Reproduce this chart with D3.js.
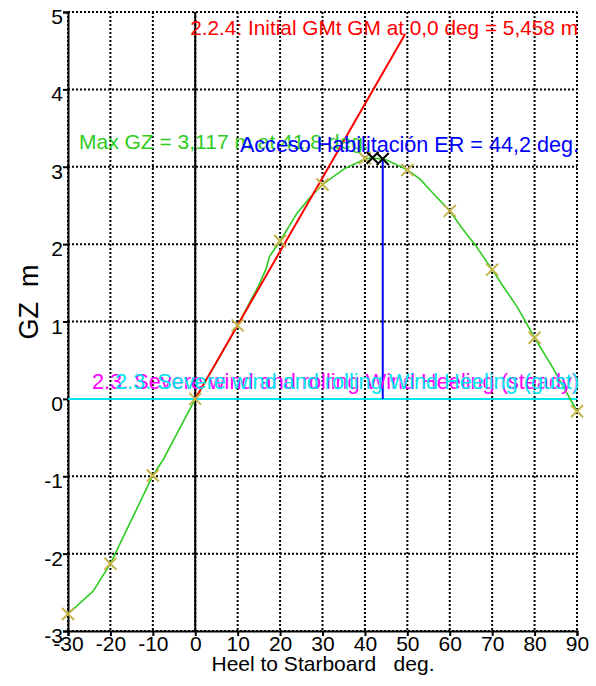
<!DOCTYPE html>
<html>
<head>
<meta charset="utf-8">
<script src="https://cdn.jsdelivr.net/npm/d3@7"></script>
<style>
  body { margin: 0; background: #fff; }
  svg text { font-family: Arial, "Liberation Sans", sans-serif; }
</style>
</head>
<body>
<svg id="graph"></svg>
<script>
var width = 596, height = 686;
var margin = {top: 12, right: 19, bottom: 55, left: 68};

// GZ curve (heel deg -> GZ m)
var heelDeg = [-30, -25, -24, -20, -15, -10, -7.5, -5, 0, 5, 10, 15, 16.7, 17.5, 20, 24, 27, 30, 35, 40, 41.8, 45, 50, 53, 56, 60, 63, 66, 70, 73, 76, 80, 84, 90];
var gzValues = [-2.78, -2.53, -2.48, -2.13, -1.56, -0.99, -0.78, -0.52, 0, 0.47, 0.95, 1.47, 1.68, 1.84, 2.04, 2.4, 2.6, 2.77, 2.97, 3.1, 3.117, 3.09, 2.96, 2.84, 2.66, 2.43, 2.2, 1.99, 1.67, 1.42, 1.18, 0.79, 0.43, -0.16];

// computed points (olive crosses)
var markDeg = [-30, -20, -10, 0, 10, 20, 30, 40, 50, 60, 70, 80, 90];
var markGz = [-2.78, -2.13, -0.99, 0, 0.95, 2.04, 2.77, 3.11, 2.96, 2.43, 1.67, 0.79, -0.16];

// max GZ and ER points (black crosses)
var keyDeg = [41.8, 44.2];
var keyGz = [3.117, 3.1];

var gmValue = 5.458;   // initial GM, m
var gmLineEnd = 49.5;  // deg, where the GM line stops
var erDeg = 44.2;

var xTicks = [-30, -20, -10, 0, 10, 20, 30, 40, 50, 60, 70, 80, 90];
var yTicks = [-3, -2, -1, 0, 1, 2, 3, 4, 5];

var svg = d3.select("#graph")
    .attr("width", width)
    .attr("height", height);

var x = d3.scaleLinear().domain([-30, 90]).range([margin.left, width - margin.right]);
var y = d3.scaleLinear().domain([-3, 5]).range([height - margin.bottom, margin.top]);

// dotted grid
svg.append("g").selectAll("line")
    .data(xTicks)
    .enter().append("line")
      .attr("x1", function(d){ return x(d); })
      .attr("x2", function(d){ return x(d); })
      .attr("y1", y(5))
      .attr("y2", y(-3))
      .attr("stroke", "#000")
      .attr("stroke-width", 2)
      .attr("stroke-dasharray", "2,2");

svg.append("g").selectAll("line")
    .data(yTicks)
    .enter().append("line")
      .attr("x1", x(-30))
      .attr("x2", x(90))
      .attr("y1", function(d){ return y(d); })
      .attr("y2", function(d){ return y(d); })
      .attr("stroke", "#000")
      .attr("stroke-width", 2)
      .attr("stroke-dasharray", "2,2");

// solid zero heel line
svg.append("line")
    .attr("x1", x(0)).attr("x2", x(0))
    .attr("y1", y(5)).attr("y2", y(-3))
    .attr("stroke", "#000")
    .attr("stroke-width", 2);

// axes (plain hyphen for negatives, like the original)
var xAxis = svg.append("g")
    .attr("transform", "translate(0," + y(-3) + ")")
    .call(d3.axisBottom(x).tickValues(xTicks).tickSize(5).tickPadding(0).tickFormat(function(d){ return String(d); }));
var yAxis = svg.append("g")
    .attr("transform", "translate(" + x(-30) + ",0)")
    .call(d3.axisLeft(y).tickValues(yTicks).tickSize(5).tickPadding(0).tickFormat(function(d){ return String(d); }));

[xAxis, yAxis].forEach(function(a){
  a.select(".domain").attr("stroke", "#000").attr("stroke-width", 2);
  a.selectAll(".tick line").attr("stroke", "#000").attr("stroke-width", 2);
  a.selectAll(".tick text")
    .attr("fill", "#000")
    .style("font-size", "21px")
    .style("font-family", "Arial, 'Liberation Sans', sans-serif");
});
yAxis.selectAll(".tick text").attr("dy", "0.55em");
xAxis.selectAll(".tick text").attr("dy", "0.72em");

// axis titles
svg.append("text")
    .attr("x", 323)
    .attr("y", 671)
    .attr("text-anchor", "middle")
    .style("font-size", "21px")
    .text("Heel to Starboard\u00a0\u00a0\u00a0deg.");

svg.append("text")
    .attr("transform", "translate(38,302) rotate(-90)")
    .attr("text-anchor", "middle")
    .style("font-size", "27px")
    .text("GZ\u00a0\u00a0m");

// wind heeling line at GZ = 0
svg.append("line")
    .attr("x1", x(-30)).attr("x2", x(90))
    .attr("y1", y(0)).attr("y2", y(0))
    .attr("stroke", "#00e5ee")
    .attr("stroke-width", 2);

// GZ curve
var gzLine = d3.line()
    .x(function(d, i){ return x(heelDeg[i]); })
    .y(function(d){ return y(d); });

svg.append("path")
    .datum(gzValues)
    .attr("d", gzLine)
    .attr("fill", "none")
    .attr("stroke", "#2ecc22")
    .attr("stroke-width", 1.6);

// initial GM line
svg.append("line")
    .attr("x1", x(0)).attr("y1", y(0))
    .attr("x2", x(gmLineEnd))
    .attr("y2", y(gmValue * gmLineEnd * Math.PI / 180))
    .attr("stroke", "#ff0000")
    .attr("stroke-width", 2);

// ER vertical line
svg.append("line")
    .attr("x1", x(erDeg)).attr("x2", x(erDeg))
    .attr("y1", y(0)).attr("y2", y(keyGz[1]))
    .attr("stroke", "#0000ff")
    .attr("stroke-width", 2);

function cross(g, px, py, r, color) {
  g.append("path")
    .attr("d", "M" + (px - r) + "," + (py - r) + "L" + (px + r) + "," + (py + r) +
               "M" + (px - r) + "," + (py + r) + "L" + (px + r) + "," + (py - r))
    .attr("stroke", color)
    .attr("stroke-width", 2)
    .attr("fill", "none");
}

var marks = svg.append("g");
markDeg.forEach(function(d, i){ cross(marks, x(d), y(markGz[i]), 6, "#c4b44a"); });
keyDeg.forEach(function(d, i){ cross(marks, x(d), y(keyGz[i]), 6, "#000"); });

// labels
function label(txt, px, py, anchor, color, size) {
  svg.append("text")
    .attr("x", px)
    .attr("y", py)
    .attr("text-anchor", anchor)
    .attr("fill", color)
    .style("font-size", size + "px")
    .text(txt);
}

label("2.2.4: Initial GMt GM at 0,0 deg = 5,458 m", 578, 35, "end", "#ff0000", 20.8);
label("Max GZ = 3,117 m at 41,8 deg.", 79, 149, "start", "#2ecc22", 21);
label("Acceso Habilitación ER = 44,2 deg.", 579, 152, "end", "#0000ff", 21.6);
label("2.3. Severe wind and rolling Wind Heeling (steady)", 92, 389, "start", "#ff00ff", 21.7);
label("2.3. Severe wind and rolling Wind Heeling (gust)", 115, 389, "start", "#00e5ee", 21.7);
</script>
</body>
</html>
